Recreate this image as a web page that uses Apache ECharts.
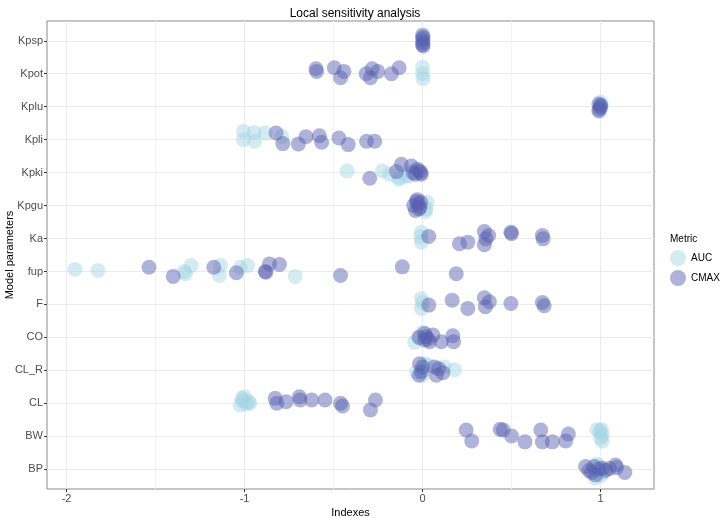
<!DOCTYPE html>
<html>
<head>
<meta charset="utf-8">
<script src="https://cdn.jsdelivr.net/npm/echarts@6/dist/echarts.min.js"></script>
<style>
  html, body { margin: 0; padding: 0; background: #fff; }
  #main { width: 726px; height: 518px; }
</style>
</head>
<body>
<div id="main"></div>
<script>
// parameters, bottom to top
var categories = ['BP', 'BW', 'CL', 'CL_R', 'CO', 'F', 'fup', 'Ka', 'Kpgu', 'Kpki', 'Kpli', 'Kplu', 'Kpot', 'Kpsp'];
var xLabelTicks = [-2, -1, 0, 1];
var xMinorTicks = [-1.5, -0.5, 0.5];

// [parameter, index, jitter]
var aucPoints = [
    ['BP', 0.97, -0.27], ['BP', 0.98, 0.15], ['BP', 1.0, -0.2], ['BP', 0.99, 0.1], ['BP', 1.01, -0.12],
    ['BW', 0.98, 0.2], ['BW', 0.995, 0.15], ['BW', 1.01, 0.05], ['BW', 1.0, -0.05], ['BW', 1.01, -0.15], ['BW', 1.005, 0.2],
    ['CL', -1.015, 0.15], ['CL', -1.024, -0.05], ['CL', -0.978, 0.05], ['CL', -1.0, 0.2], ['CL', -0.99, -0.02], ['CL', -1.01, 0.08], ['CL', -0.97, 0.0],
    ['CL_R', -0.035, -0.05], ['CL_R', 0.03, 0.15], ['CL_R', 0.123, 0.1], ['CL_R', 0.179, 0.02], ['CL_R', 0.0, -0.15], ['CL_R', 0.01, 0.2],
    ['CO', -0.045, -0.15], ['CO', 0.0, 0.15], ['CO', -0.02, 0.0],
    ['F', -0.007, 0.18], ['F', -0.007, -0.12], ['F', 0.0, 0.05],
    ['fup', -1.953, 0.06], ['fup', -1.823, 0.03], ['fup', -1.332, -0.07], ['fup', -1.3, 0.18], ['fup', -1.34, 0.0],
    ['fup', -1.136, 0.18], ['fup', -1.142, -0.12], ['fup', -1.024, 0.13], ['fup', -0.983, 0.18], ['fup', -0.716, -0.15],
    ['Ka', -0.007, 0.19], ['Ka', -0.007, -0.11], ['Ka', -0.01, 0.05],
    ['Kpgu', 0.025, 0.1], ['Kpgu', 0.02, -0.1], ['Kpgu', 0.015, -0.18],
    ['Kpki', -0.424, 0.05], ['Kpki', -0.226, 0.05], ['Kpki', -0.185, -0.05], ['Kpki', -0.133, -0.2],
    ['Kpki', -0.082, -0.1], ['Kpki', -0.129, -0.15], ['Kpki', -0.09, -0.1],
    ['Kpli', -1.006, 0.25], ['Kpli', -1.006, 0.0], ['Kpli', -0.946, 0.22], ['Kpli', -0.944, -0.05], ['Kpli', -0.884, 0.2], ['Kpli', -0.791, 0.1],
    ['Kplu', 1.0, 0.14], ['Kplu', 1.005, 0.05], ['Kplu', 0.995, -0.13],
    ['Kpot', 0.0, 0.2], ['Kpot', 0.0, 0.0], ['Kpot', 0.003, -0.15],
    ['Kpsp', 0.0, 0.1], ['Kpsp', 0.0, -0.1]
];

var cmaxPoints = [
    ['BP', 0.916, 0.08], ['BP', 0.935, -0.04], ['BP', 0.963, 0.08], ['BP', 0.972, -0.17], ['BP', 0.99, 0.0], ['BP', 1.009, 0.03],
    ['BP', 1.028, -0.04], ['BP', 1.05, 0.02], ['BP', 1.084, 0.13], ['BP', 1.09, 0.05], ['BP', 1.136, -0.1], ['BP', 0.95, -0.1],
    ['BW', 0.245, 0.19], ['BW', 0.276, -0.14], ['BW', 0.436, 0.21], ['BW', 0.453, 0.19], ['BW', 0.5, 0.01], ['BW', 0.575, -0.17],
    ['BW', 0.664, 0.19], ['BW', 0.673, -0.17], ['BW', 0.729, -0.17], ['BW', 0.804, -0.14], ['BW', 0.819, 0.07],
    ['CL', -0.828, 0.15], ['CL', -0.819, 0.0], ['CL', -0.767, 0.05], ['CL', -0.692, 0.2], ['CL', -0.688, 0.1], ['CL', -0.623, 0.1],
    ['CL', -0.548, 0.1], ['CL', -0.461, 0.0], ['CL', -0.45, -0.08], ['CL', -0.265, 0.1], ['CL', -0.293, -0.2],
    ['CL_R', -0.017, 0.2], ['CL_R', -0.007, -0.04], ['CL_R', -0.02, -0.15], ['CL_R', 0.0, 0.1],
    ['CL_R', 0.067, 0.1], ['CL_R', 0.077, -0.15], ['CL_R', 0.114, -0.07], ['CL_R', 0.09, 0.05],
    ['CO', -0.02, 0.0], ['CO', 0.011, 0.12], ['CO', 0.011, -0.08], ['CO', 0.02, 0.02], ['CO', 0.058, 0.07],
    ['CO', 0.04, -0.13], ['CO', 0.105, -0.13], ['CO', 0.17, 0.05], ['CO', 0.174, -0.13], ['CO', 0.03, -0.05],
    ['F', 0.035, -0.02], ['F', 0.166, 0.13], ['F', 0.254, -0.12], ['F', 0.347, 0.2], ['F', 0.375, 0.08],
    ['F', 0.353, -0.07], ['F', 0.496, 0.03], ['F', 0.673, 0.06], ['F', 0.683, -0.04],
    ['fup', -1.537, 0.13], ['fup', -1.401, -0.15], ['fup', -1.173, 0.13], ['fup', -1.046, -0.04], ['fup', -0.884, 0.0], ['fup', -0.88, -0.02],
    ['fup', -0.86, 0.23], ['fup', -0.804, 0.21], ['fup', -0.461, -0.12], ['fup', -0.114, 0.14], ['fup', 0.189, -0.07],
    ['Ka', 0.035, 0.06], ['Ka', 0.207, -0.16], ['Ka', 0.254, -0.11], ['Ka', 0.347, 0.21], ['Ka', 0.371, 0.09], ['Ka', 0.356, -0.01],
    ['Ka', 0.347, -0.19], ['Ka', 0.496, 0.19], ['Ka', 0.5, 0.15], ['Ka', 0.673, 0.09], ['Ka', 0.677, -0.01],
    ['Kpgu', -0.05, 0.0], ['Kpgu', -0.03, 0.18], ['Kpgu', -0.02, -0.1], ['Kpgu', -0.04, -0.15],
    ['Kpgu', -0.01, 0.1], ['Kpgu', -0.025, 0.05], ['Kpgu', -0.015, -0.05], ['Kpgu', -0.035, 0.12],
    ['Kpki', -0.297, -0.17], ['Kpki', -0.147, 0.03], ['Kpki', -0.119, 0.25], ['Kpki', -0.063, 0.2], ['Kpki', -0.054, 0.0],
    ['Kpki', -0.017, 0.05], ['Kpki', -0.007, -0.05], ['Kpki', -0.03, 0.1], ['Kpki', -0.01, 0.0], ['Kpki', -0.04, -0.05],
    ['Kpli', -0.823, 0.2], ['Kpli', -0.785, -0.12], ['Kpli', -0.698, -0.13], ['Kpli', -0.655, 0.09], ['Kpli', -0.58, 0.12],
    ['Kpli', -0.567, -0.08], ['Kpli', -0.47, 0.05], ['Kpli', -0.418, -0.15], ['Kpli', -0.315, -0.05], ['Kpli', -0.269, -0.05],
    ['Kplu', 0.99, 0.08], ['Kplu', 1.0, 0.0], ['Kplu', 0.995, -0.06], ['Kplu', 0.99, -0.12], ['Kplu', 1.0, 0.04],
    ['Kpot', -0.599, 0.15], ['Kpot', -0.595, 0.07], ['Kpot', -0.496, 0.18], ['Kpot', -0.442, 0.07], ['Kpot', -0.461, -0.12],
    ['Kpot', -0.317, 0.0], ['Kpot', -0.283, 0.15], ['Kpot', -0.252, 0.07], ['Kpot', -0.293, -0.12], ['Kpot', -0.175, 0.0], ['Kpot', -0.132, 0.18],
    ['Kpsp', 0.0, 0.17], ['Kpsp', 0.003, 0.1], ['Kpsp', 0.0, 0.03], ['Kpsp', 0.002, -0.05], ['Kpsp', 0.0, -0.12], ['Kpsp', 0.003, -0.16]
];

// category position on the y value axis plus the jitter
function toXY(list) {
    return list.map(function (p) {
        return [p[1], categories.indexOf(p[0]) + 1 + p[2]];
    });
}

var yTicks = categories.map(function (c, i) { return i + 1; });

var font = 'Liberation Sans, Arial, sans-serif';

var option = {
    animation: false,
    backgroundColor: '#fff',
    textStyle: {fontFamily: font},
    title: [
        {
            text: 'Local sensitivity analysis',
            left: 350,
            textAlign: 'center',
            top: 3,
            textStyle: {fontSize: 12, fontWeight: 'normal', color: '#000', fontFamily: font}
        },
        {
            text: 'Metric',
            left: 665,
            top: 229,
            textStyle: {fontSize: 10, fontWeight: 'normal', color: '#000', fontFamily: font}
        }
    ],
    legend: {
        data: ['AUC', 'CMAX'],
        orient: 'vertical',
        left: 665,
        top: 245,
        icon: 'circle',
        itemWidth: 16,
        itemHeight: 16,
        itemGap: 4,
        textStyle: {fontSize: 10, color: '#000', fontFamily: font}
    },
    grid: {
        left: 47,
        right: 72,
        top: 21,
        bottom: 29,
        show: true,
        borderColor: '#8a8a8a',
        borderWidth: 1,
        outerBoundsMode: 'none'
    },
    xAxis: [
        {
            type: 'value',
            min: -2.11,
            max: 1.3,
            name: 'Indexes',
            nameLocation: 'middle',
            nameGap: 18,
            nameMoveOverlap: false,
            nameTextStyle: {fontSize: 11, color: '#000', fontFamily: font},
            axisLine: {show: false, onZero: false},
            axisTick: {customValues: xLabelTicks, length: 3, lineStyle: {color: '#333'}},
            axisLabel: {customValues: xLabelTicks, color: '#4d4d4d', fontSize: 11, margin: 4, fontFamily: font},
            splitLine: {show: true, lineStyle: {color: '#ebebeb'}}
        },
        {
            type: 'value',
            min: -2.11,
            max: 1.3,
            position: 'bottom',
            axisLine: {show: false, onZero: false},
            axisTick: {show: false, customValues: xMinorTicks},
            axisLabel: {show: false, customValues: xMinorTicks},
            splitLine: {show: true, lineStyle: {color: '#f3f3f3'}}
        }
    ],
    yAxis: {
        type: 'value',
        position: 'left',
        min: 0.4,
        max: 14.6,
        name: 'Model parameters',
        nameLocation: 'middle',
        nameGap: 32,
        nameMoveOverlap: false,
        nameTextStyle: {fontSize: 11, color: '#000', fontFamily: font},
        axisLine: {show: false, onZero: false},
        axisTick: {customValues: yTicks, length: 3, lineStyle: {color: '#333'}},
        axisLabel: {
            customValues: yTicks,
            color: '#4d4d4d',
            fontSize: 11,
            margin: 4,
            fontFamily: font,
            formatter: function (v) { return categories[Math.round(v) - 1]; }
        },
        splitLine: {show: true, lineStyle: {color: '#ebebeb'}}
    },
    series: [
        {
            name: 'AUC',
            type: 'scatter',
            xAxisIndex: 0,
            symbolSize: 15,
            itemStyle: {color: 'rgba(165,213,227,0.6)'},
            data: toXY(aucPoints)
        },
        {
            name: 'CMAX',
            type: 'scatter',
            xAxisIndex: 0,
            symbolSize: 15,
            itemStyle: {color: 'rgba(87,97,175,0.6)'},
            data: toXY(cmaxPoints)
        }
    ]
};

var myChart = echarts.init(document.getElementById('main'));
myChart.setOption(option);
</script>
</body>
</html>
